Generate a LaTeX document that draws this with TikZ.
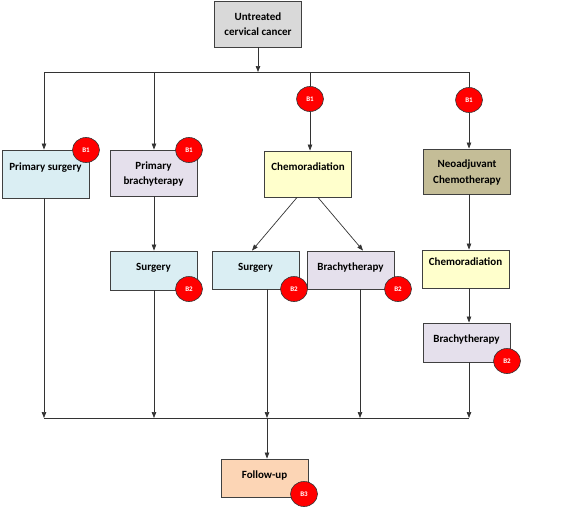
\documentclass[tikz,border=0pt]{standalone}
\usepackage{fontspec}
\setmainfont{Carlito}
\usetikzlibrary{arrows.meta,positioning,shapes.geometric}
\definecolor{boxgray}{HTML}{D9D9D9}
\definecolor{boxblue}{HTML}{DAEEF3}
\definecolor{boxlilac}{HTML}{E5E0EC}
\definecolor{boxyellow}{HTML}{FFFFCC}
\definecolor{boxolive}{HTML}{C4BD97}
\definecolor{boxpeach}{HTML}{FCD5B5}
\definecolor{badgered}{HTML}{FF0000}

\begin{document}
\begin{tikzpicture}[
  x=1pt,y=-1pt,
  font=\fontsize{11}{15.5}\selectfont\bfseries,
  stepbox/.style={draw=black!75,line width=0.9pt,minimum width=87pt,
    align=center,inner sep=2pt,text depth=7pt},
  twoline/.style={text depth=0pt},
  highline/.style={text depth=15pt},
  badge/.style={ellipse,draw=black!80,fill=badgered,line width=0.6pt,
    minimum width=27pt,minimum height=25pt,inner sep=0pt,
    text=white,font=\fontsize{7}{8}\selectfont\bfseries},
  link/.style={draw=black!80,line width=0.7pt},
  >={Triangle[length=6pt,width=4.5pt]}
]
  \useasboundingbox (0,0) rectangle (567,509);

  % boxes
  \node[stepbox,twoline,fill=boxgray,minimum height=46pt] (start) at (258,24)
    {Untreated\\cervical cancer};
  \node[stepbox,highline,fill=boxblue,minimum height=48pt] (psurg) at (45.5,174)
    {Primary surgery};
  \node[stepbox,twoline,fill=boxlilac,minimum height=46pt] (pbrachy) at (153.5,173)
    {Primary\\brachyterapy};
  \node[stepbox,highline,fill=boxyellow,minimum height=46pt] (chemo) at (308,174)
    {Chemoradiation};
  \node[stepbox,twoline,fill=boxolive,minimum height=45pt] (neo) at (467,171.5)
    {Neoadjuvant\\Chemotherapy};
  \node[stepbox,fill=boxblue,minimum height=39pt] (surgA) at (153.5,270.5)
    {Surgery};
  \node[stepbox,fill=boxblue,minimum height=38pt] (surgB) at (255.5,270)
    {Surgery};
  \node[stepbox,fill=boxlilac,minimum height=38pt] (brachyB) at (350.5,270)
    {Brachytherapy};
  \node[stepbox,highline,fill=boxyellow,minimum height=38pt] (chemoC) at (465.5,269)
    {Chemoradiation};
  \node[stepbox,fill=boxlilac,minimum height=39pt] (brachyC) at (466.5,342.5)
    {Brachytherapy};
  \node[stepbox,fill=boxpeach,minimum height=38pt] (follow) at (264.5,478)
    {Follow-up};

  % junctions
  \coordinate (topmid) at (258,72);
  \coordinate (top1) at (44,72);
  \coordinate (top2) at (154,72);
  \coordinate (top3) at (310,72);
  \coordinate (top4) at (469,72);
  \coordinate (bot1) at (44,418);
  \coordinate (bot2) at (154,418);
  \coordinate (bot3) at (267,418);
  \coordinate (bot4) at (360,418);
  \coordinate (bot5) at (469,418);

  % badges
  \node[badge] (bA) at (86,150) {B1};
  \node[badge] (bB) at (189,150) {B1};
  \node[badge] (bC) at (310,99) {B1};
  \node[badge] (bD) at (469,100) {B1};
  \node[badge] (bE) at (189,289) {B2};
  \node[badge] (bF) at (294,289) {B2};
  \node[badge] (bG) at (398,289) {B2};
  \node[badge] (bH) at (507,361) {B2};
  \node[badge] (bI) at (304,494) {B3};

  % connectors
  \draw[link,->] (start) -- (topmid);
  \draw[link] (top1) -- (top4);
  \draw[link,->] (top1) -- (top1 |- psurg.north);
  \draw[link,->] (top2) -- (top2 |- pbrachy.north);
  \draw[link] (top3) -- (bC);
  \draw[link,->] (bC) -- (bC |- chemo.north);
  \draw[link] (top4) -- (bD);
  \draw[link,->] (bD) -- (bD |- neo.north);
  \draw[link,->] (pbrachy.south -| top2) -- (surgA.north -| top2);
  \draw[link,->] ([xshift=-11pt]chemo.south) -- ([xshift=-3.5pt]surgB.north);
  \draw[link,->] ([xshift=10pt]chemo.south) -- ([xshift=12.5pt]brachyB.north);
  \draw[link,->] (neo.south -| top4) -- (chemoC.north -| top4);
  \draw[link,->] (chemoC.south -| top4) -- (brachyC.north -| top4);

  \draw[link,->] (psurg.south -| bot1) -- (bot1);
  \draw[link,->] (surgA.south -| bot2) -- (bot2);
  \draw[link,->] (surgB.south -| bot3) -- (bot3);
  \draw[link,->] (brachyB.south -| bot4) -- (bot4);
  \draw[link,->] (brachyC.south -| bot5) -- (bot5);
  \draw[link] (bot1) -- (bot5);
  \draw[link,->] (bot3) -- (bot3 |- follow.north);
\end{tikzpicture}
\end{document}
